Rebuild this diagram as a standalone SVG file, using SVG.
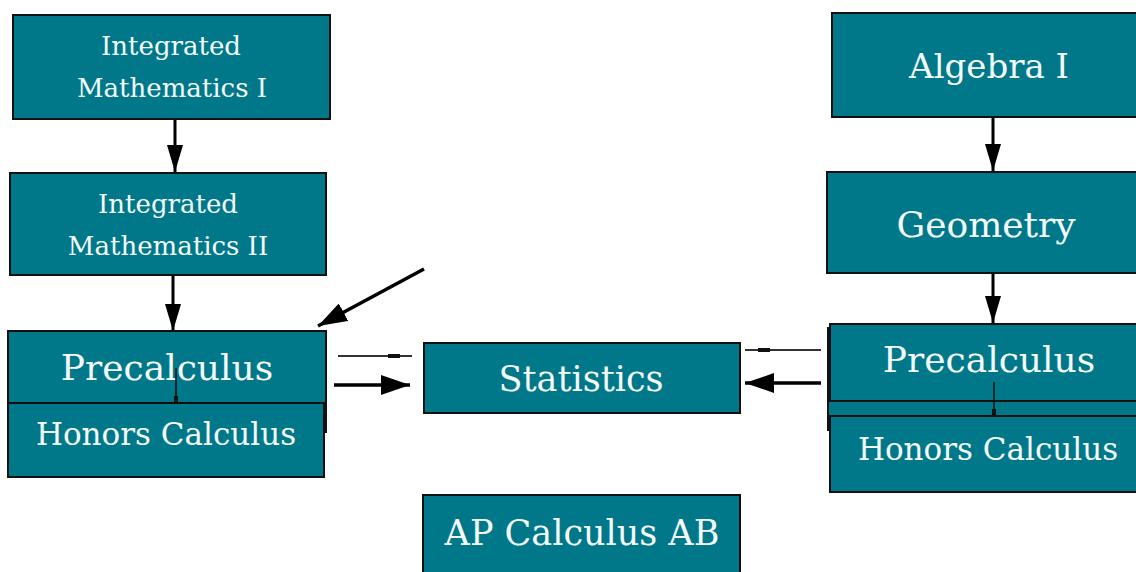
<svg xmlns="http://www.w3.org/2000/svg" width="1136" height="572" viewBox="0 0 1136 572">
<style>
.box{fill:#007889;stroke:#111;stroke-width:2}
.t{font-family:"DejaVu Serif","Liberation Serif",serif;fill:#f4fbfb;text-anchor:middle}
.c{stroke:#000;stroke-width:3;fill:none}
.thick{stroke:#000;stroke-width:3.5;fill:none}
.thin{stroke:#333;stroke-width:2;fill:none}
</style>
<defs>
<marker id="ah" markerUnits="userSpaceOnUse" markerWidth="28" markerHeight="18" refX="27" refY="8" orient="auto" viewBox="0 0 28 16">
<path d="M0,0 L27,8 L0,16 Z" fill="#000"/>
</marker>
<marker id="ah2" markerUnits="userSpaceOnUse" markerWidth="30" markerHeight="20" refX="29" refY="10" orient="auto" viewBox="0 0 30 20">
<path d="M0,0 L29,10 L0,20 Z" fill="#000"/>
</marker>
</defs>
<rect width="1136" height="572" fill="#fff"/>
<g id="connectors">
<line class="c" x1="175" y1="119" x2="175" y2="172" marker-end="url(#ah)"/>
<line class="c" x1="173" y1="276" x2="173" y2="331" marker-end="url(#ah)"/>
<line class="c" x1="993" y1="117" x2="993" y2="171" marker-end="url(#ah)"/>
<line class="c" x1="993" y1="273" x2="993" y2="323" marker-end="url(#ah)"/>
<line class="thick" x1="424" y1="269" x2="318" y2="326" marker-end="url(#ah2)"/>
<line class="thick" x1="334" y1="385" x2="410" y2="385" marker-end="url(#ah2)"/>
<line class="thick" x1="821" y1="383" x2="745" y2="383" marker-end="url(#ah2)"/>
<line class="thin" x1="338" y1="356" x2="412" y2="356"/>
<rect x="388" y="354" width="12" height="4" fill="#111"/>
<line class="thin" x1="745" y1="350" x2="821" y2="350"/>
<rect x="758" y="348" width="12" height="4" fill="#111"/>
</g>
<g id="int-math-1">
<rect class="box" x="13" y="15" width="317" height="104"/>
<text class="t" x="171" y="55" font-size="26">Integrated</text>
<text class="t" x="172" y="97" font-size="26">Mathematics I</text>
</g>
<g id="int-math-2">
<rect class="box" x="10" y="173" width="316" height="102"/>
<text class="t" x="168" y="213" font-size="26">Integrated</text>
<text class="t" x="168" y="255" font-size="26">Mathematics II</text>
</g>
<g id="precalc-left">
<rect class="box" x="8" y="331" width="318" height="101"/>
<text class="t" x="167" y="380" font-size="36">Precalculus</text>
<line x1="176" y1="368" x2="176" y2="402" stroke="#111" stroke-width="1.5"/>
<rect x="174" y="396" width="4" height="6" fill="#111"/>
</g>
<g id="honors-left">
<rect class="box" x="8" y="403" width="316" height="74"/>
<text class="t" x="166" y="445" font-size="31">Honors Calculus</text>
</g>
<g id="statistics">
<rect class="box" x="424" y="343" width="316" height="70"/>
<text class="t" x="581" y="391" font-size="35">Statistics</text>
</g>
<g id="ap-calc">
<rect class="box" x="423" y="495" width="317" height="90"/>
<text class="t" x="582" y="545" font-size="35">AP Calculus AB</text>
</g>
<g id="algebra-1">
<rect class="box" x="832" y="13" width="320" height="104"/>
<text class="t" x="989" y="78" font-size="34">Algebra I</text>
</g>
<g id="geometry">
<rect class="box" x="827" y="172" width="325" height="101"/>
<text class="t" x="986" y="237" font-size="36">Geometry</text>
</g>
<g id="precalc-right">
<rect class="box" x="828" y="328" width="324" height="102"/>
<rect class="box" x="830" y="324" width="322" height="77"/>
<text class="t" x="989" y="372" font-size="36">Precalculus</text>
<line x1="994" y1="382" x2="994" y2="416" stroke="#111" stroke-width="1.5"/>
<rect x="992" y="409" width="4" height="7" fill="#111"/>
</g>
<g id="honors-right">
<rect class="box" x="830" y="416" width="322" height="76"/>
<text class="t" x="988" y="460" font-size="31">Honors Calculus</text>
</g>
</svg>
